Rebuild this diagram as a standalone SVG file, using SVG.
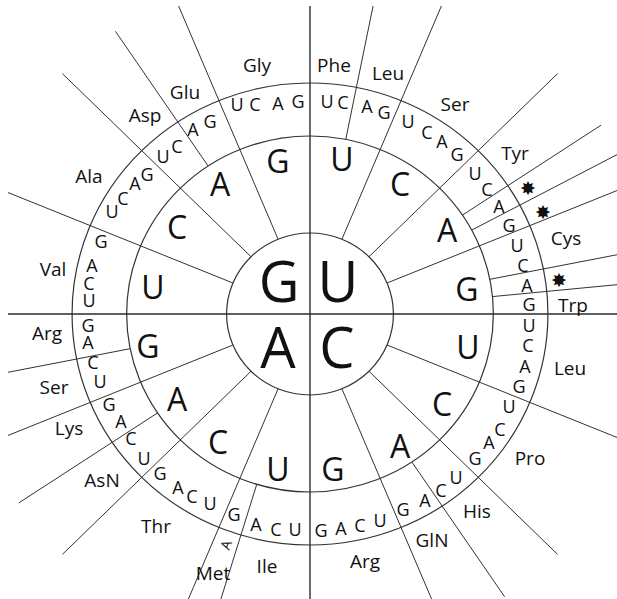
<svg xmlns="http://www.w3.org/2000/svg" width="617" height="599" viewBox="0 0 617 599">
<style>
.ln{stroke:#333;stroke-width:1;fill:none;vector-effect:non-scaling-stroke}
.ax{stroke:#2b2b2b;stroke-width:1.4;fill:none;vector-effect:non-scaling-stroke}
.ci{fill:none;stroke:#333;stroke-width:1.2;vector-effect:non-scaling-stroke}
text{font-family:"Open Sans","DejaVu Sans",sans-serif;fill:#111;text-anchor:middle}
.big{font-size:56px}
.mid{font-size:32px}
.ring{font-size:18px}
.aa{font-size:19px}
.star{font-family:"DejaVu Sans",sans-serif;font-size:19px}
</style>
<defs>
<clipPath id="frame"><rect x="8" y="6" width="609" height="593"/></clipPath>
</defs>
<rect width="617" height="599" fill="#fff"/>
<g id="wheel" clip-path="url(#frame)">
<g transform="translate(310 314) scale(1.03 1)">
<g id="circles">
<circle class="ci" r="81"/>
<circle class="ci" r="178"/>
<circle class="ci" r="231"/>
</g>
<g id="connectors">
<line class="ax" x1="0" y1="-320" x2="0" y2="300"/>
<line class="ax" x1="-300" y1="0" x2="300" y2="0"/>
<line class="ln" x1="31.0" y1="-74.8" x2="130.1" y2="-314.1"/>
<line class="ln" x1="57.3" y1="-57.3" x2="240.4" y2="-240.4"/>
<line class="ln" x1="74.8" y1="-31.0" x2="314.1" y2="-130.1"/>
<line class="ln" x1="74.8" y1="31.0" x2="314.1" y2="130.1"/>
<line class="ln" x1="57.3" y1="57.3" x2="240.4" y2="240.4"/>
<line class="ln" x1="31.0" y1="74.8" x2="130.1" y2="314.1"/>
<line class="ln" x1="-31.0" y1="74.8" x2="-130.1" y2="314.1"/>
<line class="ln" x1="-57.3" y1="57.3" x2="-240.4" y2="240.4"/>
<line class="ln" x1="-74.8" y1="31.0" x2="-314.1" y2="130.1"/>
<line class="ln" x1="-74.8" y1="-31.0" x2="-314.1" y2="-130.1"/>
<line class="ln" x1="-57.3" y1="-57.3" x2="-240.4" y2="-240.4"/>
<line class="ln" x1="-31.0" y1="-74.8" x2="-130.1" y2="-314.1"/>
<line class="ln" x1="34.7" y1="-174.6" x2="66.3" y2="-333.5"/>
<line class="ln" x1="148.0" y1="-98.9" x2="282.7" y2="-188.9"/>
<line class="ln" x1="157.0" y1="-83.9" x2="299.8" y2="-160.3"/>
<line class="ln" x1="174.6" y1="-34.7" x2="333.5" y2="-66.3"/>
<line class="ln" x1="177.1" y1="-17.4" x2="338.4" y2="-33.3"/>
<line class="ln" x1="98.9" y1="148.0" x2="188.9" y2="282.7"/>
<line class="ln" x1="-51.7" y1="170.3" x2="-98.7" y2="325.3"/>
<line class="ln" x1="-148.0" y1="98.9" x2="-282.7" y2="188.9"/>
<line class="ln" x1="-174.6" y1="34.7" x2="-333.5" y2="66.3"/>
<line class="ln" x1="-98.9" y1="-148.0" x2="-188.9" y2="-282.7"/>
</g>
</g>
</g>
<g id="first-base">
<text class="big" x="279" y="302">G</text>
<text class="big" x="338" y="302">U</text>
<text class="big" x="278" y="368">A</text>
<text class="big" x="337" y="368">C</text>
</g>
<g id="second-base">
<text class="mid" x="342" y="171">U</text>
<text class="mid" x="400" y="196">C</text>
<text class="mid" x="447" y="242">A</text>
<text class="mid" x="467" y="301">G</text>
<text class="mid" x="468" y="359">U</text>
<text class="mid" x="442" y="416">C</text>
<text class="mid" x="400" y="458">A</text>
<text class="mid" x="333" y="481">G</text>
<text class="mid" x="278" y="481">U</text>
<text class="mid" x="218" y="454">C</text>
<text class="mid" x="177" y="411">A</text>
<text class="mid" x="148" y="358">G</text>
<text class="mid" x="153" y="299">U</text>
<text class="mid" x="177" y="239">C</text>
<text class="mid" x="220" y="196">A</text>
<text class="mid" x="278" y="173">G</text>
</g>
<g id="third-base">
<text class="ring" x="327" y="108">U</text>
<text class="ring" x="343" y="109">C</text>
<text class="ring" x="367" y="113">A</text>
<text class="ring" x="384" y="119">G</text>
<text class="ring" x="408" y="128">U</text>
<text class="ring" x="427" y="139">C</text>
<text class="ring" x="442" y="148">A</text>
<text class="ring" x="457" y="161">G</text>
<text class="ring" x="475" y="180">U</text>
<text class="ring" x="487" y="196">C</text>
<text class="ring" x="499" y="213">A</text>
<text class="ring" x="509" y="232">G</text>
<text class="ring" x="517" y="252">U</text>
<text class="ring" x="523" y="272">C</text>
<text class="ring" x="527" y="292">A</text>
<text class="ring" x="529" y="311">G</text>
<text class="ring" x="529" y="332">U</text>
<text class="ring" x="528" y="352">C</text>
<text class="ring" x="525" y="373">A</text>
<text class="ring" x="519" y="393">G</text>
<text class="ring" x="509" y="413">U</text>
<text class="ring" x="500" y="436">C</text>
<text class="ring" x="489" y="449">A</text>
<text class="ring" x="475" y="465">G</text>
<text class="ring" x="456" y="484">U</text>
<text class="ring" x="441" y="497">C</text>
<text class="ring" x="425" y="507">A</text>
<text class="ring" x="403" y="516">G</text>
<text class="ring" x="380" y="527">U</text>
<text class="ring" x="360" y="532">C</text>
<text class="ring" x="341" y="535">A</text>
<text class="ring" x="321" y="537">G</text>
<text class="ring" x="295" y="536">U</text>
<text class="ring" x="276" y="536">C</text>
<text class="ring" x="256" y="531">A</text>
<text class="ring" x="234" y="521">G</text>
<text class="ring" x="210" y="510">U</text>
<text class="ring" x="192" y="503">C</text>
<text class="ring" x="178" y="494">A</text>
<text class="ring" x="160" y="480">G</text>
<text class="ring" x="144" y="465">U</text>
<text class="ring" x="131" y="445">C</text>
<text class="ring" x="121" y="428">A</text>
<text class="ring" x="109" y="411">G</text>
<text class="ring" x="100" y="388">U</text>
<text class="ring" x="93" y="369">C</text>
<text class="ring" x="88" y="349">A</text>
<text class="ring" x="88" y="332">G</text>
<text class="ring" x="89" y="307">U</text>
<text class="ring" x="89" y="290">C</text>
<text class="ring" x="92" y="272">A</text>
<text class="ring" x="101" y="248">G</text>
<text class="ring" x="112" y="218">U</text>
<text class="ring" x="123" y="205">C</text>
<text class="ring" x="135" y="190">A</text>
<text class="ring" x="147" y="181">G</text>
<text class="ring" x="163" y="163">U</text>
<text class="ring" x="177" y="153">C</text>
<text class="ring" x="193" y="136">A</text>
<text class="ring" x="210" y="128">G</text>
<text class="ring" x="237" y="111">U</text>
<text class="ring" x="255" y="111">C</text>
<text class="ring" x="278" y="110">A</text>
<text class="ring" x="298" y="108">G</text>
</g>
<g id="amino-acids">
<text class="aa" x="334" y="72">Phe</text>
<text class="aa" x="388" y="80">Leu</text>
<text class="aa" x="455" y="111">Ser</text>
<text class="aa" x="515" y="160">Tyr</text>
<text class="aa" x="566" y="245">Cys</text>
<text class="aa" x="573" y="312">Trp</text>
<text class="aa" x="570" y="375">Leu</text>
<text class="aa" x="530" y="465">Pro</text>
<text class="aa" x="477" y="518">His</text>
<text class="aa" x="432" y="547">GlN</text>
<text class="aa" x="365" y="568">Arg</text>
<text class="aa" x="267" y="573">Ile</text>
<text class="aa" x="213" y="580">Met</text>
<text class="aa" x="156" y="533">Thr</text>
<text class="aa" x="102" y="487">AsN</text>
<text class="aa" x="69" y="435">Lys</text>
<text class="aa" x="54" y="394">Ser</text>
<text class="aa" x="47" y="340">Arg</text>
<text class="aa" x="53" y="276">Val</text>
<text class="aa" x="89" y="183">Ala</text>
<text class="aa" x="145" y="122">Asp</text>
<text class="aa" x="185" y="99">Glu</text>
<text class="aa" x="257" y="72">Gly</text>
</g>
<g id="stops">
<text class="star" x="528" y="195">✸</text>
<text class="star" x="543" y="219">✸</text>
<text class="star" x="559" y="287">✸</text>
</g>
<g id="start-mark">
<text x="0" y="0" font-size="14" transform="translate(226 545) rotate(-70)" dy="5">A</text>
</g>
</svg>
